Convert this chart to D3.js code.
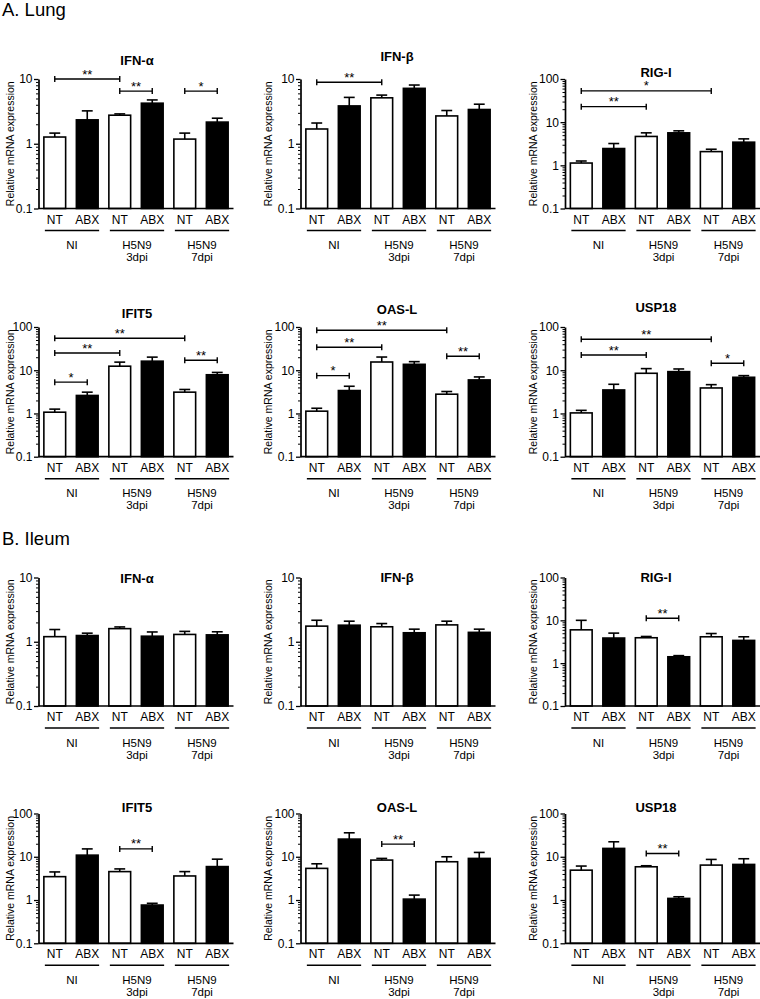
<!DOCTYPE html>
<html><head><meta charset="utf-8">
<script src="https://cdn.jsdelivr.net/npm/d3@7"></script>
<style>
body{margin:0;background:#fff}
svg{display:block}
text{font-family:"Liberation Sans",Arial,Helvetica,sans-serif;fill:#000}
</style>
</head><body>
<script>
// ---------- DATA ----------
const conditions = ["NT","ABX","NT","ABX","NT","ABX"];
const groupLabels = [["NI"],["H5N9","3dpi"],["H5N9","7dpi"]];
const genes = ["IFN-α","IFN-β","RIG-I","IFIT5","OAS-L","USP18"];
const sections = ["A. Lung","B. Ileum"];
const yMaxByGene = [10,10,100,100,100,100];
const tickLabels10 = ["0.1","1","10"];
const tickLabels100 = ["0.1","1","10","100"];

// Lung (A): mean and mean+SEM (top of error bar)
const lungIFNa = [1.27,2.34,2.76,4.23,1.18,2.16];
const lungIFNaErr = [1.46,3.22,2.89,4.75,1.46,2.48];
const lungIFNaSig = [[0,2,10,"**"],[2,3,6.5,"**"],[4,5,6.5,"*"]];
const lungIFNb = [1.69,3.84,5.12,7.17,2.69,3.38];
const lungIFNbErr = [2.09,5.2,5.64,8.07,3.26,4.08];
const lungIFNbSig = [[0,2,8.9,"**"]];
const lungRIGI = [1.13,2.45,4.67,5.66,2.08,3.44];
const lungRIGIErr = [1.26,3.2,5.66,6.3,2.36,4.1];
const lungRIGISig = [[0,4,53,"*"],[0,2,22.9,"**"]];
const lungIFIT5 = [1.07,2.61,12.4,16.2,3.11,7.86];
const lungIFIT5Err = [1.26,3.11,15.4,20.1,3.59,8.9];
const lungIFIT5Sig = [[0,4,55,"**"],[0,2,25,"**"],[4,5,17,"**"],[0,1,5.3,"*"]];
const lungOASL = [1.13,3.39,15.5,13.7,2.79,5.97];
const lungOASLErr = [1.32,4.26,20.2,15.8,3.22,7.0];
const lungOASLSig = [[0,4,84,"**"],[0,2,34,"**"],[4,5,21,"**"],[0,1,7.5,"*"]];
const lungUSP18 = [1.03,3.5,8.5,9.28,3.89,6.87];
const lungUSP18Err = [1.18,4.73,10.9,10.7,4.64,7.5];
const lungUSP18Sig = [[0,4,52,"**"],[0,2,22.5,"**"],[4,5,14.5,"*"]];

// Ileum (B)
const ileumIFNa = [1.2,1.25,1.6,1.22,1.3,1.28];
const ileumIFNaErr = [1.55,1.36,1.7,1.42,1.45,1.43];
const ileumIFNaSig = [];
const ileumIFNb = [1.75,1.81,1.71,1.38,1.83,1.4];
const ileumIFNbErr = [2.16,2.09,1.92,1.57,2.09,1.57];
const ileumIFNbSig = [];
const ileumRIGI = [6.0,3.86,3.92,1.41,4.13,3.4];
const ileumRIGIErr = [10,5.03,4.2,1.5,4.92,4.13];
const ileumRIGISig = [[2,3,11.2,"**"]];
const ileumIFIT5 = [3.47,10.9,4.54,0.766,3.6,5.93];
const ileumIFIT5Err = [4.46,15.2,5.24,0.84,4.54,8.8];
const ileumIFIT5Sig = [[2,3,15.2,"**"]];
const ileumOASL = [5.39,25.6,8.38,1.05,7.67,9.16];
const ileumOASLErr = [6.88,35.8,9.16,1.3,10,12.6];
const ileumOASLSig = [[2,3,19.6,"**"]];
const ileumUSP18 = [4.9,15.6,5.87,1.09,6.42,6.65];
const ileumUSP18Err = [6.1,22.2,6.2,1.19,8.68,9.0];
const ileumUSP18Sig = [[2,3,11.9,"**"]];

const lungMeans = [lungIFNa,lungIFNb,lungRIGI,lungIFIT5,lungOASL,lungUSP18];
const lungErrs = [lungIFNaErr,lungIFNbErr,lungRIGIErr,lungIFIT5Err,lungOASLErr,lungUSP18Err];
const lungSigs = [lungIFNaSig,lungIFNbSig,lungRIGISig,lungIFIT5Sig,lungOASLSig,lungUSP18Sig];
const ileumMeans = [ileumIFNa,ileumIFNb,ileumRIGI,ileumIFIT5,ileumOASL,ileumUSP18];
const ileumErrs = [ileumIFNaErr,ileumIFNbErr,ileumRIGIErr,ileumIFIT5Err,ileumOASLErr,ileumUSP18Err];
const ileumSigs = [ileumIFNaSig,ileumIFNbSig,ileumRIGISig,ileumIFIT5Sig,ileumOASLSig,ileumUSP18Sig];

// ---------- LAYOUT ----------
const W = 760, H = 999;
const colLeft = [38.5, 300.5, 565];
const bandW = 195;
const rowBox = [[79,208.5],[327,456.7],[577.5,706],[813.5,943.3]];
const titleY = [[60,56,72],[313,309,307],[578,577,577],[807,807,807]];
const titleX = [137,397,656];
const ylabX = [10,268,533];
const sectionY = [16,545];

const svg = d3.select("body").append("svg").attr("width",W).attr("height",H);

sections.forEach((s,i)=>{
  svg.append("text").attr("x",2).attr("y",sectionY[i]).attr("font-size",18.5).text(s);
});

function drawPanel(sec, g){
  const row = sec*2 + Math.floor(g/3), col = g%3;
  const means = sec===0 ? lungMeans[g] : ileumMeans[g];
  const errs = sec===0 ? lungErrs[g] : ileumErrs[g];
  const sigs = sec===0 ? lungSigs[g] : ileumSigs[g];
  const x0 = colLeft[col];
  const [top, bot] = rowBox[row];
  const ymax = yMaxByGene[g];
  const labels = ymax===10 ? tickLabels10 : tickLabels100;
  const majors = labels.map(Number);

  const x = d3.scaleBand().domain(d3.range(conditions.length))
    .range([x0, x0+bandW]).paddingInner(0.33).paddingOuter(0.165);
  const y = d3.scaleLog().domain([0.1, ymax]).range([bot, top]);
  const bw = x.bandwidth();
  const G = svg.append("g");

  // minor ticks
  const minors = y.ticks().filter(v => !majors.some(m => Math.abs(m-v)/m < 1e-6));
  G.append("g").attr("transform",`translate(${x0},0)`)
    .call(d3.axisLeft(y).tickValues(minors).tickSize(2.5).tickFormat(""))
    .call(a=>a.select(".domain").remove())
    .selectAll("line").attr("stroke","#000").attr("stroke-width",1);
  // major ticks + labels
  const ya = G.append("g").attr("transform",`translate(${x0},0)`)
    .call(d3.axisLeft(y).tickValues(majors).tickSize(4.5).tickSizeOuter(0).tickPadding(1.5)
      .tickFormat((d,i)=>labels[i]));
  ya.select(".domain").attr("stroke","#000").attr("stroke-width",1.7);
  ya.selectAll("line").attr("stroke","#000").attr("stroke-width",1.3);
  ya.selectAll("text").attr("font-size",12).attr("font-family",null).attr("fill","#000");

  // bars
  G.selectAll("rect.bar").data(means).enter().append("rect")
    .attr("x",(d,i)=>x(i)).attr("width",bw)
    .attr("y",d=>y(d)).attr("height",d=>bot-y(d))
    .attr("fill",(d,i)=>conditions[i]==="NT"?"#fff":"#000")
    .attr("stroke","#000").attr("stroke-width",1.6);
  // error bars
  errs.forEach((e,i)=>{
    const cx = x(i)+bw/2;
    G.append("line").attr("x1",cx).attr("x2",cx).attr("y1",y(means[i])).attr("y2",y(e))
      .attr("stroke","#000").attr("stroke-width",1.6);
    G.append("line").attr("x1",cx-bw/4).attr("x2",cx+bw/4).attr("y1",y(e)).attr("y2",y(e))
      .attr("stroke","#000").attr("stroke-width",1.6);
  });

  // x axis
  const xa = G.append("g").attr("transform",`translate(0,${bot})`)
    .call(d3.axisBottom(x).tickSize(0).tickPadding(6.5).tickFormat(i=>conditions[i]));
  xa.select(".domain").attr("d",`M${x0},0H${x0+bandW}`).attr("stroke","#000").attr("stroke-width",1.7);
  xa.selectAll("text").attr("font-size",12).attr("font-family",null).attr("fill","#000");

  // group lines + labels
  const lineY = bot + 22;
  groupLabels.forEach((gl,k)=>{
    const a = x(2*k)+1, b = x(2*k+1)+bw+1;
    G.append("line").attr("x1",a).attr("x2",b).attr("y1",lineY).attr("y2",lineY)
      .attr("stroke","#000").attr("stroke-width",1.4);
    gl.forEach((t,j)=>{
      G.append("text").attr("x",(a+b)/2).attr("y",lineY+18.5+j*12)
        .attr("text-anchor","middle").attr("font-size",11.5).text(t);
    });
  });

  // significance brackets
  sigs.forEach(([i,j,v,lab])=>{
    const xa1 = x(i)+bw/2, xa2 = x(j)+bw/2, yy = y(v);
    G.append("path").attr("d",`M${xa1},${yy}H${xa2}M${xa1},${yy-3}V${yy+3}M${xa2},${yy-3}V${yy+3}`)
      .attr("stroke","#000").attr("stroke-width",1.4).attr("fill","none");
    G.append("text").attr("x",(xa1+xa2)/2).attr("y",yy-0.5).attr("text-anchor","middle")
      .attr("font-size",13).text(lab);
  });

  // title
  G.append("text").attr("x",titleX[col]).attr("y",titleY[row][col]+4.5)
    .attr("text-anchor","middle").attr("font-size",13).attr("font-weight","bold").text(genes[g]);
  // y label
  G.append("text").attr("transform",`translate(${ylabX[col]+3.5},${(top+bot)/2}) rotate(-90)`)
    .attr("text-anchor","middle").attr("font-size",10.5).text("Relative mRNA expression");
}

[0,1].forEach(sec=>d3.range(6).forEach(g=>drawPanel(sec,g)));
</script>
</body></html>
